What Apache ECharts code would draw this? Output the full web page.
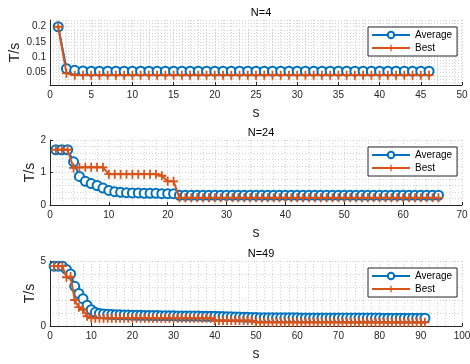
<!DOCTYPE html>
<html><head><meta charset="utf-8">
<script src="https://cdn.jsdelivr.net/npm/echarts@6/dist/echarts.min.js"></script>
<style>html,body{margin:0;padding:0;background:#fff}#c{width:470px;height:364px}</style>
</head><body><div id="c"></div>
<script>
const titles = ['N=4', 'N=24', 'N=49'];
const seriesNames = ['Average', 'Best'];
const xLabel = 's';
const yLabel = 'T/s';

const avg4 = [0.2, 0.063, 0.058, 0.056,
  0.055,0.055,0.055,0.055,0.055,0.055,0.055,0.055,0.055,0.055,
  0.055,0.055,0.055,0.055,0.055,0.055,0.055,0.055,0.055,0.055,
  0.055,0.055,0.055,0.055,0.055,0.055,0.055,0.055,0.055,0.055,
  0.055,0.055,0.055,0.055,0.055,0.055,0.055,0.055,0.055,0.055,
  0.055,0.055];
const best4 = [0.2, 0.048,
  0.042,0.042,0.042,0.042,0.042,0.042,0.042,0.042,0.042,0.042,
  0.042,0.042,0.042,0.042,0.042,0.042,0.042,0.042,0.042,0.042,
  0.042,0.042,0.042,0.042,0.042,0.042,0.042,0.042,0.042,0.042,
  0.042,0.042,0.042,0.042,0.042,0.042,0.042,0.042,0.042,0.042,
  0.042,0.042,0.042,0.042];

const avg24 = [1.7,1.7,1.7,1.33,0.88,0.73,0.66,0.6,0.52,0.45,
  0.41,0.39,0.38,0.37,0.37,0.36,0.36,0.36,0.35,0.35,0.35,
  0.3,0.3,0.3,0.3,0.3,0.3,0.3,0.3,0.3,0.3,
  0.3,0.3,0.3,0.3,0.3,0.3,0.3,0.3,0.3,0.3,
  0.3,0.3,0.3,0.3,0.3,0.3,0.3,0.3,0.3,0.3,
  0.3,0.3,0.3,0.3,0.3,0.3,0.3,0.3,0.3,0.3,
  0.3,0.3,0.3,0.3,0.3];
const best24 = [1.7,1.7,1.7,1.14,1.16,1.16,1.16,1.16,1.16,0.95,
  0.95,0.95,0.95,0.95,0.95,0.95,0.95,0.95,0.9,0.73,0.73,
  0.22,0.22,0.22,0.22,0.22,0.22,0.22,0.22,0.22,0.22,
  0.22,0.22,0.22,0.22,0.22,0.22,0.22,0.22,0.22,0.22,
  0.22,0.22,0.22,0.22,0.22,0.22,0.22,0.22,0.22,0.22,
  0.22,0.22,0.22,0.22,0.22,0.22,0.22,0.22,0.22,0.22,
  0.22,0.22,0.22,0.22,0.22];

const avg49 = [4.6,4.6,4.6,4.35,4.0,3.05,2.5,2.1,1.6,1.25,
  1.05,0.97,0.93,0.9,0.88,0.87,0.86,0.85,0.84,0.83,
  0.82,0.82,0.81,0.81,0.8,0.8,0.79,0.79,0.78,0.78,
  0.77,0.77,0.77,0.76,0.76,0.76,0.75,0.75,0.75,0.75,
  0.74,0.73,0.72,0.71,0.7,0.69,0.68,0.67,0.66,0.65,
  0.64,0.64,0.64,0.64,0.64,0.63,0.63,0.63,0.63,0.63,
  0.62,0.62,0.62,0.62,0.62,0.62,0.62,0.62,0.62,0.62,
  0.61,0.61,0.61,0.61,0.61,0.61,0.61,0.61,0.61,0.61,
  0.6,0.6,0.6,0.6,0.6,0.6,0.6,0.6,0.6,0.6,0.6];
const best49 = [4.6,4.6,4.6,3.75,3.8,2.0,1.45,1.25,0.75,
  0.6,0.6,0.6,0.6,0.6,0.6,0.6,0.6,0.6,0.6,
  0.6,0.6,0.6,0.6,0.6,0.6,0.6,0.6,0.6,0.6,
  0.6,0.6,0.6,0.6,0.6,0.6,0.6,0.6,0.6,0.6,
  0.42,0.42,0.42,0.42,0.42,0.42,0.42,0.42,0.42,0.42,
  0.28,0.28,0.28,0.28,0.28,0.28,0.28,0.28,0.28,0.28,
  0.28,0.28,0.28,0.28,0.28,0.28,0.28,0.28,0.28,0.28,
  0.28,0.28,0.28,0.28,0.28,0.28,0.28,0.28,0.28,0.28,
  0.28,0.28,0.28,0.28,0.28,0.28,0.28,0.28,0.28,0.28,
  0.28,0.28];

const FONT = '"Liberation Sans", Arial, Helvetica, sans-serif';
const BLUE = '#0072BD', ORANGE = '#D95319', AX = '#262626', GRIDC = '#d2d2d2';
const PLUS = 'path://M4,0H6V4H10V6H6V10H4V6H0V4H4Z';

const tops = [20, 140, 261];
const H = 65;
const panels = [
  {avg: avg4, best: best4, xmax: 50, xint: 5, ymin: 0.01, ymax: 0.222, yint: 0.01, yMinorSplit: 0, nameGap: 28,
   fmt: v => { const k = Math.round(v * 100); return k % 5 === 0 ? String(k / 100) : ''; }, ticks: false},
  {avg: avg24, best: best24, xmax: 70, xint: 10, ymin: 0, ymax: 2, yint: 1, yMinorSplit: 5, nameGap: 13,
   fmt: v => String(v), ticks: true},
  {avg: avg49, best: best49, xmax: 100, xint: 10, ymin: 0, ymax: 5, yint: 5, yMinorSplit: 5, nameGap: 13,
   fmt: v => String(v), ticks: true}
];

const grid = [], xAxis = [], yAxis = [], series = [], title = [], legend = [];
const dotted = {show: true, lineStyle: {color: GRIDC, type: [1, 2], width: 1}};
panels.forEach((p, i) => {
  grid.push({left: 50, top: tops[i], width: 412, height: H, containLabel: false, outerBoundsMode: 'none'});
  xAxis.push({
    gridIndex: i, type: 'value', min: 0, max: p.xmax, interval: p.xint,
    name: xLabel, nameLocation: 'middle', nameGap: 21, nameMoveOverlap: false,
    nameTextStyle: {fontSize: 14, color: AX, fontFamily: FONT},
    axisLine: {show: true, lineStyle: {color: AX, width: 1}},
    axisTick: {show: true, inside: true, length: 3, lineStyle: {color: AX}},
    axisLabel: {fontSize: 10, color: AX, margin: 5, fontFamily: FONT},
    splitLine: dotted,
    minorTick: {show: false, splitNumber: 5},
    minorSplitLine: {show: true, lineStyle: {color: GRIDC, type: [1, 2], width: 1}}
  });
  const y = {
    gridIndex: i, type: 'value', min: p.ymin, max: p.ymax, interval: p.yint,
    name: yLabel, nameLocation: 'middle', nameGap: p.nameGap, nameRotate: 90, nameMoveOverlap: false,
    nameTextStyle: {fontSize: 14, color: AX, fontFamily: FONT},
    axisLine: {show: true, lineStyle: {color: AX, width: 1}},
    axisTick: {show: p.ticks, inside: true, length: 3, lineStyle: {color: AX}},
    axisLabel: {fontSize: 10, color: AX, margin: 4, fontFamily: FONT, formatter: p.fmt,
      showMinLabel: true, showMaxLabel: true, hideOverlap: false},
    splitLine: dotted
  };
  if (p.yMinorSplit) {
    y.minorTick = {show: false, splitNumber: p.yMinorSplit};
    y.minorSplitLine = {show: true, lineStyle: {color: GRIDC, type: [1, 2], width: 1}};
  }
  yAxis.push(y);
  series.push({
    name: seriesNames[0], type: 'line', xAxisIndex: i, yAxisIndex: i,
    data: p.avg.map((v, k) => [k + 1, v]),
    symbol: 'emptyCircle', symbolSize: 9, showAllSymbol: true,
    lineStyle: {color: BLUE, width: 2},
    itemStyle: {color: BLUE, borderColor: BLUE, borderWidth: 2},
    z: 3
  });
  series.push({
    name: seriesNames[1], type: 'line', xAxisIndex: i, yAxisIndex: i,
    data: p.best.map((v, k) => [k + 1, v]),
    symbol: PLUS, symbolSize: 9, showAllSymbol: true,
    lineStyle: {color: ORANGE, width: 2},
    itemStyle: {color: ORANGE},
    z: 4
  });
  title.push({
    text: titles[i], left: 256, textAlign: 'center', top: tops[i] - 18,
    textStyle: {fontSize: 11, fontWeight: 'normal', color: '#000', fontFamily: FONT}
  });
  legend.push({
    data: seriesNames, orient: 'vertical', left: 368, top: tops[i] + 7,
    itemWidth: 38, itemHeight: 8, itemGap: 3,
    borderColor: AX, borderWidth: 1, borderRadius: 0, backgroundColor: '#fff',
    padding: [3, 5, 3, 3],
    textStyle: {fontSize: 10, color: '#000', fontFamily: FONT},
    selectedMode: false, z: 10
  });
});

const chart = echarts.init(document.getElementById('c'), null, {renderer: 'canvas'});
chart.setOption({
  animation: false, backgroundColor: '#fff',
  textStyle: {fontFamily: FONT},
  grid, xAxis, yAxis, series, title, legend
});
</script></body></html>
